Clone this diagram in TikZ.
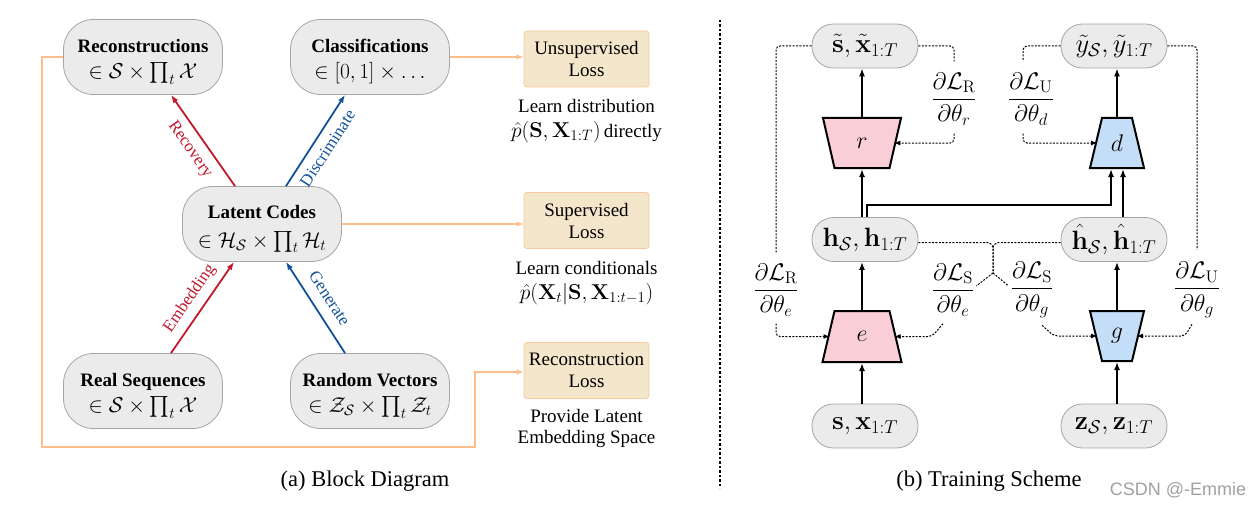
\RequirePackage{fix-cm}
\documentclass[tikz,border=0pt]{standalone}
\usepackage{amsmath}
\usepackage[no-math]{fontspec}
\setmainfont{Liberation Serif}
\newfontfamily\wmfont{Liberation Sans}
\usetikzlibrary{arrows.meta}
\pgfdeclarelayer{background}
\pgfsetlayers{background,main}
\definecolor{nodefill}{RGB}{235,235,235}
\definecolor{nodeborder}{RGB}{165,165,165}
\definecolor{lossfill}{RGB}{244,230,202}
\definecolor{lossborder}{RGB}{246,202,155}
\definecolor{orangec}{RGB}{253,190,140}
\definecolor{redc}{RGB}{192,24,44}
\definecolor{bluea}{RGB}{18,82,152}
\definecolor{pinkf}{RGB}{249,206,214}
\definecolor{bluef}{RGB}{197,222,248}
\definecolor{wmgray}{RGB}{160,160,160}
\newcommand{\mth}[1]{{\fontsize{21.5}{25}\selectfont$#1$}}
\newcommand{\ttl}[1]{\rule{0pt}{23pt}\textbf{#1}}
\begin{document}
\begin{tikzpicture}[x=1pt,y=-1pt,
  box/.style={draw=nodeborder, fill=nodefill, line width=0.8pt, rounded corners=30pt,
    minimum width=159pt, minimum height=75pt, align=center, inner sep=0pt,
    font=\fontsize{19}{26}\selectfont},
  sbox/.style={draw=nodeborder, fill=nodefill, line width=0.8pt, rounded corners=21.5pt,
    minimum width=106pt, minimum height=44pt, inner sep=0pt,
    font=\fontsize{26.5}{30}\selectfont},
  loss/.style={draw=lossborder, fill=lossfill, line width=0.8pt, rounded corners=3pt,
    minimum width=125pt, minimum height=56pt, align=center, inner sep=0pt,
    font=\fontsize{19}{22}\selectfont},
  note/.style={align=center, inner sep=0pt, font=\fontsize{19}{25}\selectfont},
  capt/.style={inner sep=0pt, font=\fontsize{22.5}{26}\selectfont},
  tlbl/.style={sloped, inner sep=7pt, text height=12pt, text depth=3.5pt,
    font=\fontsize{17}{20}\selectfont},
  redarr/.style={draw=redc, line width=1.8pt, -{Latex[length=8pt,width=6pt]}},
  bluearr/.style={draw=bluea, line width=1.8pt, -{Latex[length=8pt,width=6pt]}},
  oline/.style={draw=orangec, line width=2pt},
  oarr/.style={oline, -{Latex[length=7pt,width=5.5pt]}},
  barr/.style={line width=2pt, -{Latex[length=8pt,width=6pt]}},
  dotl/.style={line width=1pt, dash pattern=on 2pt off 1.4pt, rounded corners=4pt},
  dotarr/.style={dotl, -{Latex[length=6pt,width=5pt]}},
  divider/.style={line width=2.5pt, dash pattern=on 2.5pt off 2pt},
  trapbox/.style={draw=none, fill=none, inner sep=0pt, outer sep=1pt,
    font=\fontsize{24}{28}\selectfont},
  trapline/.style={draw=black, line width=2pt, line join=miter},
  gradlbl/.style={inner sep=1pt, font=\fontsize{24}{28}\selectfont},
]
\useasboundingbox (0,0) rectangle (1260,508);

% ---------------- (a) Block diagram ----------------
\node[box] (recn) at (143,57) {\ttl{Reconstructions}\\\mth{\in\mathcal{S}\times\prod_t\mathcal{X}}};
\node[box] (cls) at (370,57) {\ttl{Classifications}\\\mth{\in[0,1]\times\ldots}};
\node[box] (lat) at (262,224) {\ttl{Latent Codes}\\[3pt]\mth{\in\mathcal{H}_{\mathcal{S}}\times\prod_t\mathcal{H}_t}};
\node[box] (real) at (143,391) {\ttl{Real Sequences}\\\mth{\in\mathcal{S}\times\prod_t\mathcal{X}}};
\node[box] (rand) at (370,391) {\ttl{Random Vectors}\\\mth{\in\mathcal{Z}_{\mathcal{S}}\times\prod_t\mathcal{Z}_t}};

\node[loss] (ul) at (586.5,59) {Unsupervised\\Loss};
\node[loss] (sl) at (586.5,220.5) {Supervised\\Loss};
\node[loss] (rl) at (586.5,370.5) {Reconstruction\\Loss};

\node[note] (n1) at (586.5,121) {Learn distribution\\\mth{\hat{p}(\mathbf{S},\mathbf{X}_{1:T})}\,directly};
\node[note] (n2) at (586.5,283) {Learn conditionals\\\mth{\hat{p}(\mathbf{X}_t|\mathbf{S},\mathbf{X}_{1:t-1})}};
\node[note, font=\fontsize{19}{21}\selectfont] (n3) at (586.5,428) {Provide Latent\\Embedding Space};

\draw[redarr] ([xshift=-27pt]lat.north) -- node[tlbl, below, text=redc] {Recovery} ([xshift=28pt]recn.south);
\draw[bluearr] ([xshift=24pt]lat.north) -- node[tlbl, below, text=bluea] {Discriminate} ([xshift=-25pt]cls.south);
\draw[redarr] ([xshift=28pt]real.north) -- node[tlbl, above, text=redc] {Embedding} ([xshift=-28pt]lat.south);
\draw[bluearr] ([xshift=-25pt]rand.north) -- node[tlbl, above, text=bluea] {Generate} ([xshift=24pt]lat.south);

\draw[oarr] (cls.east) -- (cls.east -| ul.west);
\draw[oarr] (lat.east) -- (lat.east -| sl.west);
\draw[oarr] (recn.west) -| (42,447) -| (475,372) -- (475,372 -| rl.west);

\node[capt] (capa) at (365,481) {(a) Block Diagram};

% divider
\coordinate (dv1) at (720,20);
\coordinate (dv2) at (720,488);
\draw[divider] (dv1) -- (dv2);

% ---------------- (b) Training scheme ----------------
\node[sbox] (st) at (865,46) {$\tilde{\mathbf{s}},\tilde{\mathbf{x}}_{1:T}$};
\node[sbox] (yt) at (1114,46) {$\tilde{y}_{\mathcal{S}},\tilde{y}_{1:T}$};
\node[sbox] (h) at (865,239.5) {$\mathbf{h}_{\mathcal{S}},\mathbf{h}_{1:T}$};
\node[sbox] (hh) at (1114,239.5) {$\hat{\mathbf{h}}_{\mathcal{S}},\hat{\mathbf{h}}_{1:T}$};
\node[sbox] (sx) at (865,426) {$\mathbf{s},\mathbf{x}_{1:T}$};
\node[sbox] (zz) at (1114,426) {$\mathbf{z}_{\mathcal{S}},\mathbf{z}_{1:T}$};

% trapezoids: node = box of mid width, outline drawn behind
\node[trapbox, minimum width=62.5pt, minimum height=50pt] (r) at (862,143) {$r$};
\node[trapbox, minimum width=63pt, minimum height=51pt] (e) at (862,336.5) {$e$};
\node[trapbox, minimum width=38pt, minimum height=50pt] (d) at (1117,143) {$d$};
\node[trapbox, minimum width=38pt, minimum height=50pt] (g) at (1117,336) {$g$};
\begin{pgfonlayer}{background}
\filldraw[trapline, fill=pinkf] ([xshift=-6.75pt,yshift=-1pt]r.north west) -- ([xshift=6.75pt,yshift=-1pt]r.north east)
  -- ([xshift=-4.75pt,yshift=1pt]r.south east) -- ([xshift=4.75pt,yshift=1pt]r.south west) -- cycle;
\filldraw[trapline, fill=pinkf] ([xshift=5pt,yshift=-1pt]e.north west) -- ([xshift=-5pt,yshift=-1pt]e.north east)
  -- ([xshift=7pt,yshift=1pt]e.south east) -- ([xshift=-7pt,yshift=1pt]e.south west) -- cycle;
\filldraw[trapline, fill=bluef] ([xshift=5pt,yshift=-1pt]d.north west) -- ([xshift=-5pt,yshift=-1pt]d.north east)
  -- ([xshift=7pt,yshift=1pt]d.south east) -- ([xshift=-7pt,yshift=1pt]d.south west) -- cycle;
\filldraw[trapline, fill=bluef] ([xshift=-7pt,yshift=-1pt]g.north west) -- ([xshift=7pt,yshift=-1pt]g.north east)
  -- ([xshift=-5pt,yshift=1pt]g.south east) -- ([xshift=5pt,yshift=1pt]g.south west) -- cycle;
\end{pgfonlayer}

\node[gradlbl] (LRr) at (954,99) {$\dfrac{\partial\mathcal{L}_{\mathrm{R}}}{\partial\theta_r}$};
\node[gradlbl] (LUd) at (1031,99) {$\dfrac{\partial\mathcal{L}_{\mathrm{U}}}{\partial\theta_d}$};
\node[gradlbl] (LRe) at (776,290) {$\dfrac{\partial\mathcal{L}_{\mathrm{R}}}{\partial\theta_e}$};
\node[gradlbl] (LSe) at (953,290) {$\dfrac{\partial\mathcal{L}_{\mathrm{S}}}{\partial\theta_e}$};
\node[gradlbl] (LSg) at (1032,290) {$\dfrac{\partial\mathcal{L}_{\mathrm{S}}}{\partial\theta_g}$};
\node[gradlbl] (LUg) at (1197,290) {$\dfrac{\partial\mathcal{L}_{\mathrm{U}}}{\partial\theta_g}$};

% solid arrows
\draw[barr] (sx.north -| e.south) -- (e.south);
\draw[barr] (e.north) -- (e.north |- h.south);
\draw[barr] (h.north -| r.south) -- (r.south);
\draw[barr] (r.north) -- (r.north |- st.south);
\draw[barr] (zz.north -| g.south) -- (g.south);
\draw[barr] (g.north) -- (g.north |- hh.south);
\draw[barr] ([xshift=6pt]d.south |- hh.north) -- ([xshift=6pt]d.south);
\draw[barr] ([xshift=2pt]h.north) -- ++(0,-12) -| ([xshift=-6pt]d.south);
\draw[barr] (d.north) -- (d.north |- yt.south);

% dotted gradient paths
\draw[dotl] (st.west) -| ([yshift=9pt]LRe.north);
\draw[dotarr] ([yshift=-6pt]LRe.south) |- (e.west);
\draw[dotl] (st.east) -| ([yshift=10pt]LRr.north);
\draw[dotarr] ([yshift=-7pt]LRr.south) |- (r.east);
\draw[dotl] (yt.west) -| ([xshift=-8pt,yshift=10pt]LUd.north);
\draw[dotarr] ([xshift=-8pt,yshift=-7pt]LUd.south) |- (d.west);
\draw[dotl] (yt.east) -| ([yshift=11pt]LUg.north);
\draw[dotarr] ([xshift=-5pt,yshift=-5pt]LUg.south) -- ([xshift=-12pt]LUg.south |- g.east) -- (g.east);

\coordinate (spl) at (993,273);
\draw[dotl, rounded corners=6pt] ([yshift=-3pt]h.east) -| (spl);
\draw[dotl, rounded corners=6pt] ([yshift=-3pt]hh.west) -| (spl);
\draw[dotl] (spl) -- ([xshift=1pt,yshift=4pt]LSe.east);
\draw[dotl] (spl) -- ([xshift=-1pt,yshift=4pt]LSg.west);
\draw[dotarr] ([xshift=-10pt,yshift=-6pt]LSe.south) -- ([xshift=-21pt]LSe.south |- e.east) -- (e.east);
\draw[dotarr] ([xshift=10pt,yshift=-6pt]LSg.south) -- ([xshift=22pt]LSg.south |- g.west) -- (g.west);

\node[capt] (capb) at (989,481) {(b) Training Scheme};
\node[inner sep=0pt, text=wmgray, font=\wmfont\fontsize{18}{20}\selectfont] (wm) at (1178,490) {CSDN @-Emmie};
\end{tikzpicture}
\end{document}
